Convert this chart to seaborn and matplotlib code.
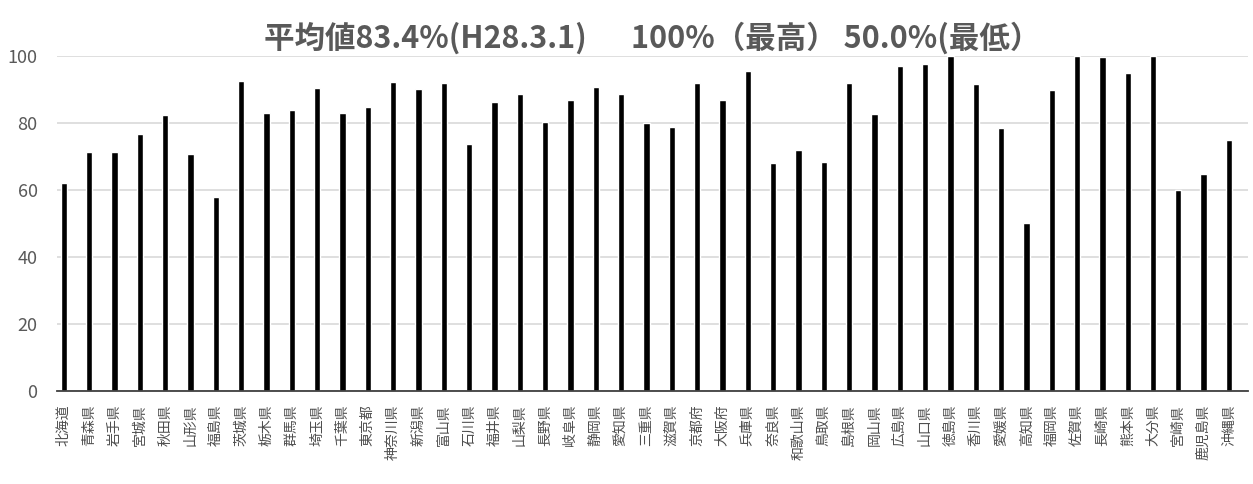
import matplotlib
matplotlib.use("Agg")
import matplotlib.pyplot as plt
import seaborn as sns

# 都道府県名と値（%）
prefectures = [
    "北海道", "青森県", "岩手県", "宮城県", "秋田県", "山形県", "福島県",
    "茨城県", "栃木県", "群馬県", "埼玉県", "千葉県", "東京都", "神奈川県",
    "新潟県", "富山県", "石川県", "福井県", "山梨県", "長野県", "岐阜県",
    "静岡県", "愛知県", "三重県", "滋賀県", "京都府", "大阪府", "兵庫県",
    "奈良県", "和歌山県", "鳥取県", "島根県", "岡山県", "広島県", "山口県",
    "徳島県", "香川県", "愛媛県", "高知県", "福岡県", "佐賀県", "長崎県",
    "熊本県", "大分県", "宮崎県", "鹿児島県", "沖縄県",
]
values = [
    62.2, 71.3, 71.3, 76.6, 82.3, 70.7, 57.8,
    92.6, 82.9, 84.0, 90.4, 83.1, 84.8, 92.4,
    90.2, 92.1, 73.7, 86.3, 88.8, 80.4, 86.9,
    90.8, 88.8, 80.1, 78.9, 92.0, 86.9, 95.6,
    68.1, 71.9, 68.4, 92.0, 82.7, 97.0, 97.6,
    100.0, 91.6, 78.5, 50.0, 89.8, 100.0, 99.6,
    95.0, 100.0, 60.0, 64.9, 74.9,
]
y_ticks = [0, 20, 40, 60, 80, 100]
title = "平均値83.4%(H28.3.1)　  100%（最高） 50.0%(最低）"

sns.set_theme(style="white")
plt.rcParams['font.family'] = ['Noto Sans CJK JP', 'DejaVu Sans']

fig = plt.figure(figsize=(12.53, 4.84), dpi=100)
ax = fig.add_axes([0.0455, 0.193, 0.9505, 0.691])

sns.barplot(x=prefectures, y=values, color="black", width=0.25,
            saturation=1, ax=ax, zorder=3)

ax.set_ylim(0, 100)
ax.set_xlim(-0.27, len(prefectures) - 0.25)
ax.set_yticks(y_ticks)
ax.yaxis.grid(True, color="#d9d9d9", linewidth=1.2, zorder=0)
ax.xaxis.grid(False)
for s in ["left", "right", "top"]:
    ax.spines[s].set_visible(False)
ax.spines["bottom"].set_color("#404040")
ax.spines["bottom"].set_linewidth(1.3)
ax.spines["bottom"].set_zorder(4)

ax.tick_params(axis="y", length=0, labelsize=13, labelcolor="#595959", pad=14)
ax.tick_params(axis="x", length=0, labelsize=10, labelcolor="#4d4d4d", pad=10)
for lab in ax.get_xticklabels():
    lab.set_rotation(90)
    lab.set_va("top")
    lab.set_ha("center")

ax.set_xlabel("")
ax.set_ylabel("")
ax.set_title(title, fontsize=22, color="#595959", fontweight="bold", pad=6)

fig.savefig("out.png", dpi=100)
